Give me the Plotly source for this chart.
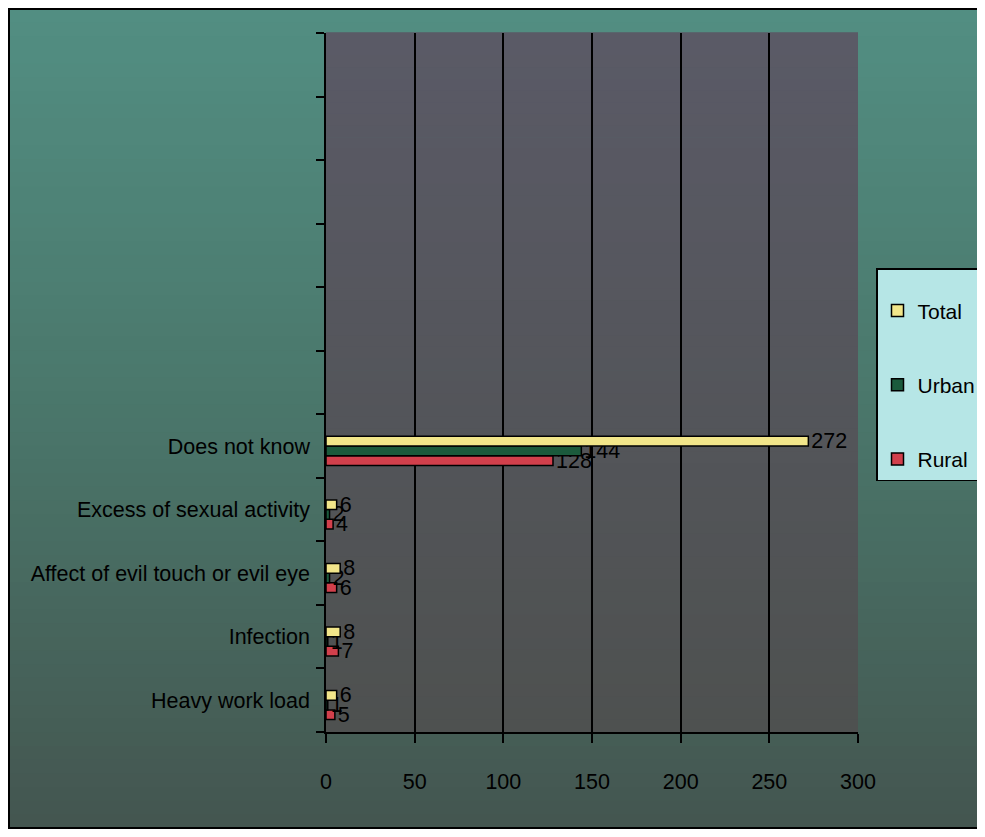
import plotly.graph_objects as go

# ---------------- data ----------------
categories = ["Heavy work load", "Infection", "Affect of evil touch or evil eye",
              "Excess of sexual activity", "Does not know"]
blank_slots = [" " * (i + 1) for i in range(6)]
total = [6, 8, 8, 6, 272]
urban = [1, 1, 2, 2, 144]
rural = [5, 7, 6, 4, 128]
x_ticks = [0, 50, 100, 150, 200, 250, 300]

# ---------------- style ----------------
FONT = "Liberation Sans, Arial, sans-serif"
FS = 21.5
OFF = 8                      # page offset of the figure (body margin)
W, H = 985 - 2 * OFF, 837 - 2 * OFF
# plot area in page pixels: x 326..858, y 33..732
ML, MR = 326 - OFF, W - (858 - OFF)
MT, MB = 33 - OFF, H - (732 - OFF)
PW, PH = W - ML - MR, H - MT - MB


def px2paper_x(px):          # page px -> paper
    return (px - OFF - ML) / PW


def px2paper_y(py):
    return (H - MB - (py - OFF)) / PH


def lerp(c1, c2, t):
    return "rgb(%d,%d,%d)" % tuple(round(a + (b - a) * t) for a, b in zip(c1, c2))


fig = go.Figure()
series = [("Rural", rural, "#d2404c", 3), ("Urban", urban, "#1b5a3c", 2), ("Total", total, "#f2e68a", 1)]
for name, vals, col, rank in series:
    fig.add_trace(go.Bar(
        name=name, y=categories, x=vals, orientation="h",
        marker=dict(color=col, line=dict(color="black", width=1.5)),
        text=vals, texttemplate="%{x}", textposition="outside",
        textfont=dict(family=FONT, size=FS, color="black"),
        constraintext="none", cliponaxis=False,
        legendrank=rank, legendgroup=name,
    ))
# ensure blank category slots exist on the axis
fig.add_trace(go.Bar(y=blank_slots, x=[None] * len(blank_slots), orientation="h",
                     showlegend=False, hoverinfo="skip", marker=dict(color="rgba(0,0,0,0)")))

shapes = []
FX0, FX1, FY0, FY1 = OFF + 1, 1000, OFF + 1, OFF + H - 1
top_c, mid_c, bot_c = (82, 142, 130), (74, 118, 106), (68, 86, 80)
n = 60
for i in range(n):
    y0 = FY0 + i * (FY1 - FY0) / n
    y1 = FY0 + (i + 1) * (FY1 - FY0) / n + 1
    t = i / (n - 1)
    c = lerp(top_c, mid_c, t * 2) if t < 0.5 else lerp(mid_c, bot_c, (t - 0.5) * 2)
    shapes.append(dict(type="rect", xref="paper", yref="paper", layer="below",
                       x0=px2paper_x(FX0), x1=px2paper_x(FX1),
                       y0=px2paper_y(min(y1, FY1)), y1=px2paper_y(y0),
                       fillcolor=c, line=dict(width=0)))
p_top, p_bot = (90, 90, 102), (78, 81, 80)
for i in range(n):
    t = i / (n - 1)
    shapes.append(dict(type="rect", xref="x domain", yref="y domain", layer="below",
                       x0=0, x1=1, y0=1 - (i + 1) / n, y1=1 - i / n + 0.001,
                       fillcolor=lerp(p_top, p_bot, t), line=dict(width=0)))
shapes.append(dict(type="rect", xref="paper", yref="paper", layer="above",
                   x0=px2paper_x(FX0), x1=px2paper_x(FX1),
                   y0=px2paper_y(FY1), y1=px2paper_y(FY0),
                   fillcolor="rgba(0,0,0,0)", line=dict(color="black", width=2)))

fig.update_layout(
    width=W, height=H,
    margin=dict(l=ML, r=MR, t=MT, b=MB, pad=0, autoexpand=False),
    paper_bgcolor="white", plot_bgcolor="#55565e",
    barmode="group", bargap=0.39, bargroupgap=0,
    font=dict(family=FONT, size=FS, color="black"),
    shapes=shapes,
    showlegend=True,
    legend=dict(x=px2paper_x(876), y=px2paper_y(268), xanchor="left", yanchor="top",
                bgcolor="#b6e6e6", bordercolor="black", borderwidth=1.5,
                font=dict(family=FONT, size=21, color="black"),
                title=dict(text=" ", font=dict(size=16)),
                tracegroupgap=44, itemwidth=30),
    xaxis=dict(range=[0, 300], tickvals=x_ticks, ticktext=[str(v) for v in x_ticks],
               showgrid=True, gridcolor="black", gridwidth=1.5,
               showline=True, linecolor="black", linewidth=1.5,
               ticks="outside", ticklen=9, tickcolor="black", tickwidth=1.5,
               ticklabelstandoff=20, zeroline=False, automargin=False,
               tickfont=dict(family=FONT, size=FS, color="black")),
    yaxis=dict(type="category", categoryorder="array",
               categoryarray=categories + blank_slots,
               range=[-0.5, len(categories) + len(blank_slots) - 0.5],
               showgrid=False, showline=True, linecolor="black", linewidth=1.5,
               ticks="outside", tickson="boundaries", ticklen=8,
               tickcolor="black", tickwidth=1.5, ticklabelstandoff=10,
               automargin=False,
               tickfont=dict(family=FONT, size=FS, color="black")),
)
fig.write_html("out.html")
